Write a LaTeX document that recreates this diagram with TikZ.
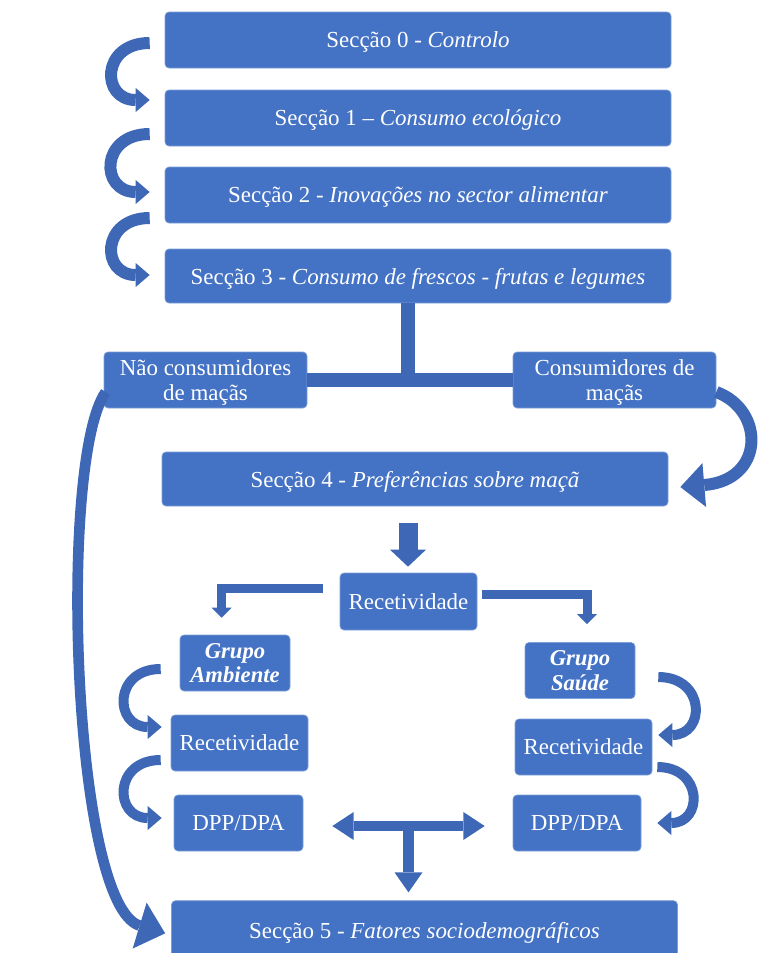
\documentclass[tikz,border=0pt]{standalone}
\usepackage{fontspec}
\setmainfont{Liberation Serif}
\usetikzlibrary{arrows.meta}
\definecolor{boxblue}{HTML}{4472C4}
\definecolor{arrblue}{HTML}{3E68B6}
\definecolor{boxedge}{HTML}{7F9FD8}
\tikzset{secbox/.style={rectangle,rounded corners=3pt,fill=boxblue,draw=boxedge,line width=.5pt,
    text=white,font=\fontsize{17.2}{19}\selectfont,minimum width=379.5pt,minimum height=42pt,
    inner sep=2pt,align=center,text depth=0pt},
  smallbox/.style={secbox,minimum width=102.75pt},
  grpbox/.style={smallbox,minimum width=82.5pt,font=\fontsize{17}{18.5}\selectfont\bfseries\itshape},
  tbar/.style={draw=arrblue,line width=10.5pt},
  curlarr/.style={draw=arrblue,line width=9pt,-{Triangle[length=10.5pt,width=18pt,line width=0pt]}},
  sweeparr/.style={draw=arrblue,line width=8pt,-{Triangle[length=20pt,width=36pt,line width=0pt]}},
  downarr/.style={draw=arrblue,line width=14.25pt,-{Triangle[length=12.75pt,width=27pt,line width=0pt]}},
  elbowarr/.style={draw=arrblue,line width=6.75pt,line join=miter,-{Triangle[length=7.5pt,width=15pt,line width=0pt]}},
  twoarr/.style={draw=arrblue,line width=7pt,{Triangle[length=16pt,width=21pt,line width=0pt]}-{Triangle[length=16pt,width=21pt,line width=0pt]}},
  droparr/.style={draw=arrblue,line width=8pt,-{Triangle[length=15pt,width=21pt,line width=0pt]}}}
\begin{document}
\begin{tikzpicture}[x=.75pt,y=-.75pt]
\useasboundingbox (0,0) rectangle (758,953);
\node[secbox] (S0) at (418,40) {Secção 0 - \textit{Controlo}};
\node[secbox] (S1) at (418,118) {Secção 1 – \textit{Consumo ecológico}};
\node[secbox] (S2) at (418,195) {Secção 2 - \textit{Inovações no sector alimentar}};
\node[secbox,minimum height=40.5pt] (S3) at (418,276) {Secção 3 - \textit{Consumo de frescos - frutas e legumes}};
\node[smallbox,minimum width=152.25pt] (Nao) at (205.5,380) {Não consumidores\\de maçãs};
\node[smallbox,minimum width=152.25pt] (Cons) at (614.5,380) {Consumidores de\\maçãs};
\node[secbox,minimum height=40.5pt] (S4) at (415,479) {Secção 4 - \textit{Preferências sobre maçã}};
\node[smallbox,minimum height=42.75pt] (RecC) at (408.5,601.5) {Recetividade};
\node[grpbox] (GA) at (235,663) {Grupo\\Ambiente};
\node[grpbox] (GS) at (580,670.5) {Grupo\\Saúde};
\node[smallbox] (RecL) at (239.5,743) {Recetividade};
\node[smallbox] (RecR) at (583.5,747) {Recetividade};
\node[smallbox,minimum width=96.75pt] (DPPL) at (238.5,823) {DPP/DPA};
\node[smallbox,minimum width=96pt] (DPPR) at (577,823) {DPP/DPA};
\node[secbox,minimum height=44pt] (S5) at (424.5,930) {Secção 5 - \textit{Fatores sociodemográficos}};

\coordinate (tj) at ([xshift=-7.5pt]S3.south);
\draw[tbar] (Nao.east) -- (Cons.west);
\draw[tbar] (tj) -- (tj |- Nao.east);

\draw[curlarr] ([xshift=-11.25pt,yshift=-2.25pt]S0.west) to[out=180,in=180,looseness=2.2] ([xshift=-11.25pt,yshift=13.5pt]S1.west);
\draw[curlarr] ([xshift=-11.25pt,yshift=-12pt]S1.west) to[out=180,in=180,looseness=2.2] ([xshift=-11.25pt,yshift=2.25pt]S2.west);
\draw[curlarr] ([xshift=-11.25pt,yshift=-17.25pt]S2.west) to[out=180,in=180,looseness=2.2] ([xshift=-11.25pt,yshift=.75pt]S3.west);

\draw[sweeparr] ([xshift=1.5pt,yshift=-9pt]Nao.west) .. controls (58,460) and (72,905) .. ([xshift=-4.5pt,yshift=-2.5pt]S5.west);
\draw[sweeparr,line width=9pt,-{Triangle[length=18pt,width=33pt,line width=0pt]}] ([yshift=-9pt]Cons.east) .. controls (765,410) and (765,480) .. ([xshift=9pt,yshift=-6pt]S4.east);

\coordinate (dn) at ([xshift=-5.25pt,yshift=-12.75pt]S4.south);
\draw[downarr,shorten >=4.5pt] (dn) -- (dn |- RecC.north);
\draw[elbowarr] ([xshift=-12.75pt,yshift=9.75pt]RecC.west) -| ([xshift=-10pt,yshift=12.75pt]GA.north);
\draw[elbowarr] ([xshift=3.75pt,yshift=5.25pt]RecC.east) -| ([xshift=5.25pt,yshift=13.5pt]GS.north);

\draw[curlarr,line width=7.5pt] ([xshift=-14.25pt,yshift=-4.5pt]GA.west) to[out=180,in=180,looseness=2.1] ([xshift=-6.75pt,yshift=12pt]RecL.west);
\draw[curlarr,line width=7.5pt] ([xshift=-7.5pt,yshift=-12.75pt]RecL.west) to[out=180,in=180,looseness=2.1] ([xshift=-9pt,yshift=3.75pt]DPPL.west);
\draw[curlarr,line width=7.5pt] ([xshift=17.25pt,yshift=-4.9pt]GS.east) to[out=0,in=0,looseness=2.1] ([xshift=4.5pt,yshift=9pt]RecR.east);
\draw[curlarr,line width=7.5pt] ([xshift=3.75pt,yshift=-15pt]RecR.east) to[out=0,in=0,looseness=2.1] ([xshift=12pt]DPPR.east);

\draw[twoarr] ([xshift=21.75pt,yshift=-2.25pt]DPPL.east) -- coordinate (dmid) ([xshift=-21pt,yshift=-2.25pt]DPPR.west);
\draw[droparr,shorten >=6pt] (dmid) -- (dmid |- S5.north);
\end{tikzpicture}
\end{document}
